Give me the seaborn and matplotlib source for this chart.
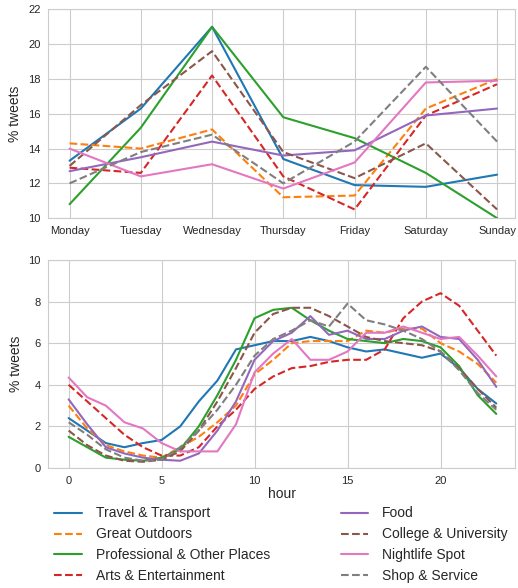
import numpy as np
import pandas as pd
import matplotlib
matplotlib.use('Agg')
import matplotlib.pyplot as plt
import seaborn as sns

# 類別與樣式
categories = ['Travel & Transport', 'Great Outdoors', 'Professional & Other Places',
              'Arts & Entertainment', 'Food', 'College & University',
              'Nightlife Spot', 'Shop & Service']
dashed = [False, True, False, True, False, True, False, True]

days = ['Monday', 'Tuesday', 'Wednesday', 'Thursday', 'Friday', 'Saturday', 'Sunday']
hours = list(range(24))

# 每週各天的 % tweets
travel_day = [13.3, 16.3, 21.0, 13.4, 11.9, 11.8, 12.5]
outdoors_day = [14.3, 14.0, 15.1, 11.2, 11.3, 16.3, 18.0]
professional_day = [10.8, 15.2, 21.0, 15.8, 14.6, 12.6, 10.0]
arts_day = [12.9, 12.6, 18.2, 12.4, 10.5, 15.9, 17.7]
food_day = [12.7, 13.5, 14.4, 13.6, 13.9, 15.9, 16.3]
college_day = [13.0, 16.5, 19.6, 13.8, 12.3, 14.3, 10.5]
nightlife_day = [14.0, 12.4, 13.1, 11.7, 13.2, 17.8, 17.9]
shop_day = [12.0, 13.8, 14.8, 12.0, 14.4, 18.7, 14.4]

# 每小時的 % tweets
travel_hour = [2.4, 1.8, 1.2, 1.0, 1.2, 1.35, 2.0, 3.2, 4.2, 5.7, 5.9, 6.1,
               6.1, 6.3, 6.1, 5.8, 5.6, 5.7, 5.5, 5.3, 5.5, 4.8, 3.8, 3.1]
outdoors_hour = [3.0, 1.9, 1.1, 0.8, 0.6, 0.5, 1.0, 1.5, 2.2, 3.0, 4.5, 5.2,
                 6.0, 6.1, 6.1, 6.1, 6.6, 6.5, 6.7, 6.7, 6.0, 5.6, 5.0, 4.1]
professional_hour = [1.5, 1.0, 0.5, 0.4, 0.35, 0.5, 0.9, 2.0, 3.5, 5.2, 7.2, 7.6,
                     7.7, 7.1, 6.6, 6.2, 6.1, 6.0, 6.2, 6.1, 5.8, 4.9, 3.5, 2.6]
arts_hour = [4.0, 3.2, 2.4, 1.6, 1.0, 0.6, 0.6, 1.0, 2.0, 2.8, 3.8, 4.4,
             4.8, 4.9, 5.1, 5.2, 5.2, 5.7, 7.2, 8.0, 8.4, 7.8, 6.6, 5.4]
food_hour = [3.3, 2.1, 1.0, 0.7, 0.5, 0.4, 0.35, 0.7, 1.8, 3.2, 5.2, 6.1,
             6.5, 7.3, 6.4, 6.6, 6.2, 6.2, 6.6, 6.8, 6.3, 6.2, 5.2, 3.9]
college_hour = [1.8, 1.1, 0.6, 0.35, 0.3, 0.4, 0.8, 1.8, 3.2, 4.8, 6.5, 7.4,
                7.7, 7.7, 7.3, 6.8, 6.3, 6.1, 6.0, 5.9, 5.6, 4.8, 3.8, 2.9]
nightlife_hour = [4.35, 3.4, 3.0, 2.2, 1.9, 1.2, 0.8, 0.8, 0.8, 2.1, 4.6, 5.5,
                  6.2, 5.2, 5.2, 5.6, 6.5, 6.5, 6.8, 6.5, 6.2, 6.3, 5.4, 4.4]
shop_hour = [2.2, 1.6, 0.9, 0.5, 0.35, 0.4, 1.0, 1.8, 2.8, 4.0, 5.4, 6.2,
             6.6, 7.1, 6.8, 7.9, 7.1, 6.9, 6.6, 6.2, 5.6, 4.7, 3.6, 2.8]

day_values = [travel_day, outdoors_day, professional_day, arts_day,
              food_day, college_day, nightlife_day, shop_day]
hour_values = [travel_hour, outdoors_hour, professional_hour, arts_hour,
               food_hour, college_hour, nightlife_hour, shop_hour]

sns.set_style('whitegrid')
plt.rcParams['font.family'] = ['Liberation Sans', 'DejaVu Sans']
colors = sns.color_palette('tab10', 8)

fig = plt.figure(figsize=(5.18, 5.88), dpi=100)
ax1 = fig.add_axes([0.093, 0.629, 0.901, 0.355])
ax2 = fig.add_axes([0.093, 0.204, 0.901, 0.354])

for i, cat in enumerate(categories):
    ls = '--' if dashed[i] else '-'
    df_day = pd.DataFrame({'x': np.arange(len(days)), 'y': day_values[i]})
    sns.lineplot(data=df_day, x='x', y='y', ax=ax1, color=colors[i],
                 linestyle=ls, linewidth=1.5)
    df_hour = pd.DataFrame({'x': hours, 'y': hour_values[i]})
    sns.lineplot(data=df_hour, x='x', y='y', ax=ax2, color=colors[i],
                 linestyle=ls, linewidth=1.5, label=cat)

ax1.set_xticks(np.arange(len(days)))
ax1.set_xticklabels(days)
ax1.set_ylim(10, 22)
ax1.set_yticks(np.arange(10, 23, 2))
ax1.set_xlim(-0.3, 6.25)
ax1.set_xlabel('')
ax1.set_ylabel('% tweets', fontsize=10)
ax1.tick_params(labelsize=8, pad=2)

ax2.set_ylim(0, 10)
ax2.set_xlim(-1.1, 24.0)
ax2.set_xticks([0, 5, 10, 15, 20])
ax2.set_xlabel('hour', fontsize=10, labelpad=1)
ax2.set_ylabel('% tweets', fontsize=10)
ax2.tick_params(labelsize=8, pad=2)

handles, labels = ax2.get_legend_handles_labels()
ax2.get_legend().remove()
fig.legend(handles, labels, loc='upper left', bbox_to_anchor=(0.08, 0.16),
           ncol=2, frameon=False, fontsize=10, columnspacing=5.1,
           handlelength=2.0, handletextpad=1.0, labelspacing=0.5)

plt.savefig('out.png', dpi=100)
